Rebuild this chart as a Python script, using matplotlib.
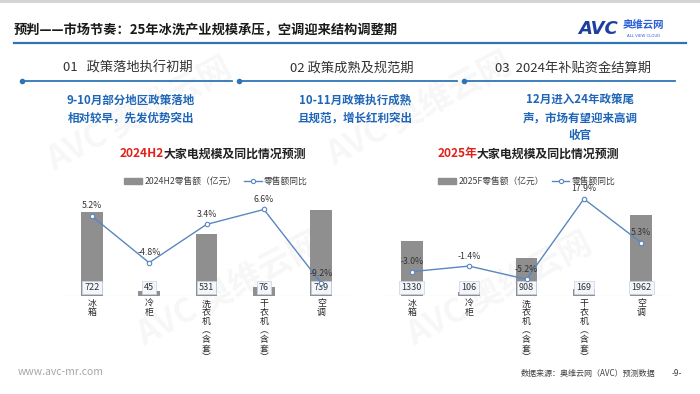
import matplotlib
matplotlib.use("Agg")
import matplotlib.pyplot as plt
from matplotlib.lines import Line2D
from matplotlib.patches import Patch, Rectangle

plt.rcParams["font.family"] = ["Noto Sans CJK SC", "DejaVu Sans"]

W, H = 700, 394

TITLE = "预判——市场节奏：25年冰洗产业规模承压，空调迎来结构调整期"
PHASES = ["01   政策落地执行初期", "02 政策成熟及规范期", "03  2024年补贴资金结算期"]
PHASE_NOTES = [
    ["9-10月部分地区政策落地", "相对较早，先发优势突出"],
    ["10-11月政策执行成熟", "且规范，增长红利突出"],
    ["12月进入24年政策尾", "声，市场有望迎来高调", "收官"],
]

CATEGORIES = ["冰箱", "冷柜", "洗衣机（含套）", "干衣机（含套）", "空调"]
SALES_2024H2 = [722, 45, 531, 76, 739]
YOY_2024H2 = [5.2, -4.8, 3.4, 6.6, -9.2]
SALES_2025 = [1330, 106, 908, 169, 1962]
YOY_2025 = [-3.0, -1.4, -5.2, 17.9, 5.3]

BLUE = "#2e75b6"
TEXT_BLUE = "#1f66b8"
RED = "#e3211b"
BAR = "#8f8f8f"
LINE = "#5a87c0"


def fx(px):
    return px / W


def fy(py):
    return 1 - py / H


def vertical(label):
    label = label.replace("（", "︵").replace("）", "︶")
    return "\n".join(label)


def draw_chart(fig, left, sales, yoy, bar_top, pct_lim, red, black, split_x, legend_label, legend_x):
    ax = fig.add_axes([fx(left), fy(296), fx(287), 106 / H])
    ax.patch.set_visible(False)
    x = list(range(len(CATEGORIES)))
    ax.bar(x, sales, width=0.38, color=BAR, zorder=2)
    ax.axhline(0, color="#d9d9d9", lw=0.8, zorder=1)
    ax.set_xlim(-0.5, 4.5)
    ax.set_ylim(0, bar_top)
    ax.axis("off")
    for i, v in enumerate(sales):
        ax.annotate(str(v), (i, 0), xytext=(0, 6), textcoords="offset points",
                    ha="center", va="center", fontsize=6.5, color="#333333", zorder=5,
                    bbox=dict(boxstyle="square,pad=0.25", fc="#f3f6fb", ec="#c5d3e8", lw=0.5))
        ax.annotate(vertical(CATEGORIES[i]), (i, 0), xytext=(0, -2.5), textcoords="offset points",
                    ha="center", va="top", fontsize=6.4, color="#262626", linespacing=1.0,
                    annotation_clip=False)

    ax2 = ax.twinx()
    ax2.plot(x, yoy, color=LINE, lw=1, marker="o", ms=3.2, mfc="white", mec=LINE, mew=0.8, zorder=3)
    ax2.set_ylim(*pct_lim)
    ax2.axis("off")
    for i, v in enumerate(yoy):
        ax2.annotate(f"{v:.1f}%", (i, v), xytext=(0, 4), textcoords="offset points",
                     ha="center", va="bottom", fontsize=6.3, color="#333333")

    fig.text(fx(split_x), fy(154), red, ha="right", va="center", fontsize=8.6,
             fontweight="bold", color=RED)
    fig.text(fx(split_x), fy(154), black, ha="left", va="center", fontsize=8.6,
             fontweight="bold", color="#222222")

    handles = [Patch(color=BAR),
               Line2D([], [], color=LINE, lw=1, marker="o", ms=3, mfc="white", mec=LINE, mew=0.8)]
    fig.legend(handles, [legend_label, "零售额同比"], loc="center", ncol=2,
               bbox_to_anchor=(fx(legend_x), fy(181.5)), frameon=False, fontsize=6.3,
               handlelength=2.0, handleheight=0.6, handletextpad=0.3, columnspacing=0.9,
               labelcolor="#404040")


fig = plt.figure(figsize=(W / 100, H / 100), dpi=100)

# faint watermarks
for wx, wy in [(140, 115), (420, 110), (230, 290), (500, 290)]:
    fig.text(fx(wx), fy(wy), "AVC 奥维云网", fontsize=24, fontweight="bold", rotation=28,
             color="#000000", alpha=0.035, ha="center", va="center", zorder=-1)

fig.patches.append(Rectangle((0, fy(3)), 1, 3 / H, transform=fig.transFigure,
                             color="#d4d4d4", lw=0))

fig.text(fx(14), fy(30), TITLE, fontsize=9.5, fontweight="bold", color="#1a1a1a",
         ha="left", va="center")
fig.add_artist(Line2D([fx(14), fx(686)], [fy(43), fy(43)], color=BLUE, lw=1.6))

# logo
fig.text(fx(578), fy(29), "AVC", fontsize=13, fontweight="bold", fontstyle="italic",
         color="#1e3f9e", ha="left", va="center", family="DejaVu Sans")
fig.text(fx(623), fy(25), "奥维云网", fontsize=7.5, fontweight="bold", color="#2b5fd9",
         ha="left", va="center")
fig.text(fx(627), fy(36), "ALL VIEW CLOUD", fontsize=2.8, color="#2b5fd9",
         ha="left", va="center", family="DejaVu Sans")

# timeline
segments = [(22, 232), (239, 457), (464, 675)]
phase_x = [128, 352, 573]
for (x0, x1), label, px, notes in zip(segments, PHASES, phase_x, PHASE_NOTES):
    fig.add_artist(Line2D([fx(x0), fx(x1)], [fy(81), fy(81)], color=BLUE, lw=1.3))
    fig.add_artist(Line2D([fx(x0)], [fy(81)], marker="o", ms=3, color=BLUE, lw=0))
    fig.text(fx(px), fy(68), label, fontsize=9.5, fontstyle="italic", color="#333333",
             ha="center", va="center")
    for k, line in enumerate(notes):
        fig.text(fx(px + 3 if len(notes) == 2 else px + 7), fy(100.5 + 17.5 * k), line,
                 fontsize=8.3, fontweight="bold", color=TEXT_BLUE, ha="center", va="center")

draw_chart(fig, 63, SALES_2024H2, YOY_2024H2, 912, (-11.93, 10.77),
           "2024H2", "大家电规模及同比情况预测", 164, "2024H2零售额（亿元）", 216)
draw_chart(fig, 383, SALES_2025, YOY_2025, 2555, (-10.0, 20.46),
           "2025年", "大家电规模及同比情况预测", 477, "2025F零售额（亿元）", 527)

# footer
fig.text(fx(18), fy(372), "www.avc-mr.com", fontsize=7.5, color="#a6a6a6",
         ha="left", va="center")
fig.text(fx(655), fy(373), "数据来源：奥维云网（AVC）预测数据", fontsize=5.8, color="#404040",
         ha="right", va="center")
fig.text(fx(677), fy(373), "-9-", fontsize=6, color="#404040", ha="center", va="center")

fig.savefig("out.png", dpi=100)
